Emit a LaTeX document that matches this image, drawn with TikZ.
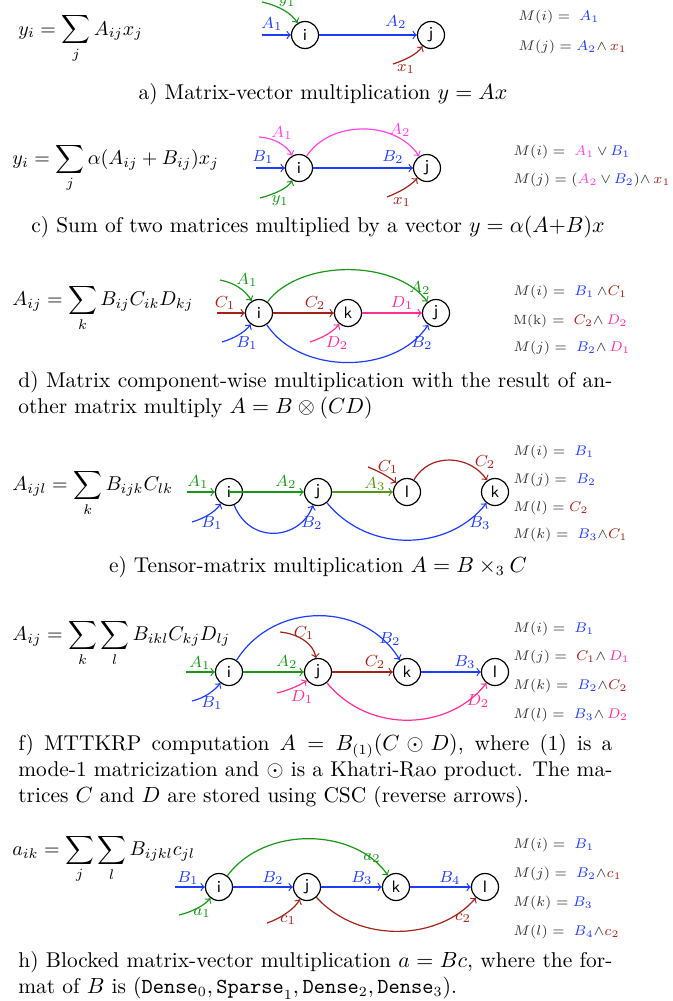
\documentclass[tikz,border=0pt]{standalone}
\usepackage{amsmath}
\definecolor{eblue}{RGB}{30,60,255}
\definecolor{egreen}{RGB}{25,150,25}
\definecolor{eolive}{RGB}{85,150,20}
\definecolor{ered}{RGB}{160,35,25}
\definecolor{emag}{RGB}{255,70,230}
\definecolor{epink}{RGB}{255,45,150}
\tikzset{
  vert/.style={circle, draw, line width=0.6pt, minimum size=13.5pt, inner sep=0pt, font=\sffamily\fontsize{8.3}{9}\selectfont},
  ed/.style={->, line width=0.6pt},
  elab/.style={font=\fontsize{8}{9}\selectfont, inner sep=0pt},
  eqtxt/.style={font=\fontsize{9.6}{12}\selectfont, anchor=base west, inner sep=0pt},
  captxt/.style={font=\fontsize{10.7}{13}\selectfont, inner sep=0pt},
  capbox/.style={captxt, anchor=north west, text width=297pt, align=justify},
  mlab/.style={font=\fontsize{6.7}{8}\selectfont, anchor=west, text=black!80, inner sep=0pt},
}
\begin{document}
\begin{tikzpicture}[x=0.5pt,y=-0.5pt]
\useasboundingbox (0,0) rectangle (673,1001);

% ---------------- panel a ----------------
\node[eqtxt] (eqa) at (18,35) {$\displaystyle y_i=\sum_j A_{ij}x_j$};
\node[vert] (ai) at (305,35) {i};
\node[vert] (aj) at (431,35) {j};
\coordinate (aA1) at (262,35);
\coordinate (ay1) at (262,2);
\coordinate (ax1) at (393,64);
\draw[ed,eblue] (aA1) -- (ai);
\draw[ed,egreen] (ay1) .. controls (280,6) and (292,14) .. (ai);
\draw[ed,eblue] (ai) -- (aj);
\draw[ed,ered] (ax1) .. controls (405,60) and (416,55) .. (aj);
\node[elab,text=eblue] (laA1) at (272,24) {$A_1$};
\node[elab,text=egreen] (lay1) at (287,2) {$y_1$};
\node[elab,text=eblue] (laA2) at (396,22) {$A_2$};
\node[elab,text=ered] (lax1) at (406,69) {$x_1$};
\node[mlab] (ma1) at (518,17) {$M(i) =\;\textcolor{eblue}{A_1}$};
\node[mlab] (ma2) at (518,47) {$M(j) =\textcolor{eblue}{A_2}{\wedge}\,\textcolor{ered}{x_1}$};
\node[captxt,anchor=base] (capa) at (323,99) {a) Matrix-vector multiplication $y=Ax$};

% ---------------- panel c ----------------
\node[eqtxt] (eqc) at (12,164) {$\displaystyle y_i=\sum_j \alpha(A_{ij}+B_{ij})x_j$};
\node[vert] (ci) at (299,168) {i};
\node[vert] (cj) at (427,168) {j};
\coordinate (cA1) at (259,137);
\coordinate (cB1) at (256,168);
\coordinate (cy1) at (260,198);
\coordinate (cx1) at (387,197);
\draw[ed,emag] (cA1) .. controls (275,138) and (287,146) .. (ci);
\draw[ed,eblue] (cB1) -- (ci);
\draw[ed,egreen] (cy1) .. controls (275,194) and (288,188) .. (ci);
\draw[ed,emag] (ci) .. controls (330,120) and (395,120) .. (cj);
\draw[ed,eblue] (ci) -- (cj);
\draw[ed,ered] (cx1) .. controls (400,192) and (410,186) .. (cj);
\node[elab,text=emag] (lcA1) at (282,133) {$A_1$};
\node[elab,text=eblue] (lcB1) at (263,157) {$B_1$};
\node[elab,text=egreen] (lcy1) at (280,201) {$y_1$};
\node[elab,text=emag] (lcA2) at (400,130) {$A_2$};
\node[elab,text=eblue] (lcB2) at (393,157) {$B_2$};
\node[elab,text=ered] (lcx1) at (402,202) {$x_1$};
\node[mlab] (mc1) at (513,152) {$M(i) =\;\textcolor{emag}{A_1}\,{\vee}\,\textcolor{eblue}{B_1}$};
\node[mlab] (mc2) at (513,180) {$M(j) ={(}\textcolor{emag}{A_2}\,{\vee}\,\textcolor{eblue}{B_2}{)}{\wedge}\,\textcolor{ered}{x_1}$};
\node[captxt,anchor=base] (capc) at (318,232) {c) Sum of two matrices multiplied by a vector $y=\alpha(A{+}B)x$};

% ---------------- panel d ----------------
\node[eqtxt] (eqd) at (12,305) {$\displaystyle A_{ij}=\sum_k B_{ij}C_{ik}D_{kj}$};
\node[vert] (di) at (259,313) {i};
\node[vert] (dk) at (348,313) {k};
\node[vert] (dj) at (436,313) {j};
\coordinate (dA1) at (220,280);
\coordinate (dC1) at (217,313);
\coordinate (dB1) at (222,342);
\coordinate (dD2) at (310,342);
\draw[ed,egreen] (dA1) .. controls (235,283) and (245,290) .. (di);
\draw[ed,ered] (dC1) -- (di);
\draw[ed,eblue] (dB1) .. controls (235,338) and (245,332) .. (di);
\draw[ed,egreen] (di) .. controls (300,259) and (395,259) .. (dj);
\draw[ed,ered] (di) -- (dk);
\draw[ed,epink] (dk) -- (dj);
\draw[ed,epink] (dD2) .. controls (322,338) and (333,332) .. (dk);
\draw[ed,eblue] (di) .. controls (300,375) and (395,375) .. (dj);
\node[elab,text=egreen] (ldA1) at (247,280) {$A_1$};
\node[elab,text=ered] (ldC1) at (225,303) {$C_1$};
\node[elab,text=eblue] (ldB1) at (247,343) {$B_1$};
\node[elab,text=egreen] (ldA2) at (420,288) {$A_2$};
\node[elab,text=ered] (ldC2) at (315,303) {$C_2$};
\node[elab,text=epink] (ldD1) at (402,303) {$D_1$};
\node[elab,text=epink] (ldD2) at (337,343) {$D_2$};
\node[elab,text=eblue] (ldB2) at (422,343) {$B_2$};
\node[mlab] (md1) at (513,292) {$M(i) =\;\textcolor{eblue}{B_1}\,{\wedge}\textcolor{ered}{C_1}$};
\node[mlab] (md2) at (513,321) {M(k) $=\;\textcolor{ered}{C_2}{\wedge}\,\textcolor{epink}{D_2}$};
\node[mlab] (md3) at (513,348) {$M(j) =\;\textcolor{eblue}{B_2}{\wedge}\,\textcolor{epink}{D_1}$};
\node[capbox] (capd) at (18,371) {d) Matrix component-wise multiplication with the result of an-\linebreak other matrix multiply $A=B\otimes(CD)$};

% ---------------- panel e ----------------
\node[eqtxt] (eqe) at (12,490) {$\displaystyle A_{ijl}=\sum_k B_{ijk}C_{lk}$};
\node[vert] (ei) at (229,492) {i};
\node[vert] (ej) at (318,492) {j};
\node[vert] (enl) at (407,492) {l};
\node[vert] (ek) at (495,492) {k};
\coordinate (eA1) at (187,492);
\coordinate (eB1) at (192,522);
\coordinate (eC1) at (368,467);
\draw[ed,egreen] (eA1) -- (ei);
\draw[ed,eblue] (eB1) .. controls (205,518) and (215,512) .. (ei);
\draw[ed,egreen] (ei.center) -- (ej);
\draw[ed,eblue] (ei) .. controls (250,545) and (300,540) .. (ej);
\draw[ed,eolive] (ej) -- (enl);
\draw[ed,ered] (eC1) .. controls (378,471) and (388,476) .. (enl);
\draw[ed,ered] (enl) .. controls (430,452) and (470,455) .. (ek);
\draw[ed,eblue] (ej) .. controls (370,555) and (450,550) .. (ek);
\node[elab,text=egreen] (leA1) at (198,482) {$A_1$};
\node[elab,text=eblue] (leB1) at (212,523) {$B_1$};
\node[elab,text=egreen] (leA2) at (286,482) {$A_2$};
\node[elab,text=eblue] (leB2) at (312,523) {$B_2$};
\node[elab,text=eolive] (leA3) at (375,484) {$A_3$};
\node[elab,text=ered] (leC1) at (388,467) {$C_1$};
\node[elab,text=ered] (leC2) at (485,462) {$C_2$};
\node[elab,text=eblue] (leB3) at (480,523) {$B_3$};
\node[mlab] (me1) at (513,452) {$M(i) =\;\textcolor{eblue}{B_1}$};
\node[mlab] (me2) at (513,480) {$M(j) =\;\textcolor{eblue}{B_2}$};
\node[mlab] (me3) at (513,508) {$M(l) =\textcolor{ered}{C_2}$};
\node[mlab] (me4) at (513,535) {$M(k) =\;\textcolor{eblue}{B_3}{\wedge}\textcolor{ered}{C_1}$};
\node[captxt,anchor=base] (cape) at (318,572) {e) Tensor-matrix multiplication $A=B\times_3 C$};

% ---------------- panel f ----------------
\node[eqtxt] (eqf) at (12,640) {$\displaystyle A_{ij}=\sum_k\sum_l B_{ikl}C_{kj}D_{lj}$};
\node[vert] (fi) at (229,672) {i};
\node[vert] (fj) at (318,672) {j};
\node[vert] (fk) at (407,672) {k};
\node[vert] (fl) at (495,672) {l};
\coordinate (fA1) at (186,672);
\coordinate (fB1) at (192,701);
\coordinate (fC1) at (280,632);
\coordinate (fD1) at (277,693);
\draw[ed,egreen] (fA1) -- (fi);
\draw[ed,eblue] (fB1) .. controls (205,698) and (215,690) .. (fi);
\draw[ed,eblue] (fi) .. controls (275,600) and (365,602) .. (fk);
\draw[ed,ered] (fC1) .. controls (300,634) and (314,645) .. (fj);
\draw[ed,egreen] (fi) -- (fj);
\draw[ed,epink] (fD1) .. controls (290,690) and (302,684) .. (fj);
\draw[ed,ered] (fj) -- (fk);
\draw[ed,eblue] (fk) -- (fl);
\draw[ed,epink] (fj) .. controls (370,735) and (450,730) .. (fl);
\node[elab,text=egreen] (lfA1) at (200,663) {$A_1$};
\node[elab,text=eblue] (lfB1) at (212,703) {$B_1$};
\node[elab,text=eblue] (lfB2) at (390,639) {$B_2$};
\node[elab,text=ered] (lfC1) at (304,633) {$C_1$};
\node[elab,text=egreen] (lfA2) at (287,662) {$A_2$};
\node[elab,text=epink] (lfD1) at (302,697) {$D_1$};
\node[elab,text=ered] (lfC2) at (375,662) {$C_2$};
\node[elab,text=eblue] (lfB3) at (465,662) {$B_3$};
\node[elab,text=epink] (lfD2) at (478,701) {$D_2$};
\node[mlab] (mf1) at (513,629) {$M(i) =\;\textcolor{eblue}{B_1}$};
\node[mlab] (mf2) at (513,657) {$M(j) =\;\textcolor{ered}{C_1}{\wedge}\,\textcolor{epink}{D_1}$};
\node[mlab] (mf3) at (513,686) {$M(k) =\;\textcolor{eblue}{B_2}{\wedge}\textcolor{ered}{C_2}$};
\node[mlab] (mf4) at (513,715) {$M(l) =\;\textcolor{eblue}{B_3}{\wedge}\,\textcolor{epink}{D_2}$};
\node[capbox] (capf) at (18,734) {f) MTTKRP computation $A=B_{(1)}(C\odot D)$, where (1) is a\linebreak mode-1 matricization and $\odot$ is a Khatri-Rao product. The ma-\linebreak trices $C$ and $D$ are stored using CSC (reverse arrows).};

% ---------------- panel h ----------------
\node[eqtxt] (eqh) at (12,855) {$\displaystyle a_{ik}=\sum_j\sum_l B_{ijkl}c_{jl}$};
\node[vert] (hi) at (219,887) {i};
\node[vert] (hj) at (307,887) {j};
\node[vert] (hk) at (396,887) {k};
\node[vert] (hl) at (485,887) {l};
\coordinate (hB1) at (175,887);
\coordinate (ha1) at (179,915);
\coordinate (hc1) at (267,923);
\draw[ed,eblue] (hB1) -- (hi);
\draw[ed,egreen] (ha1) .. controls (192,912) and (205,905) .. (hi);
\draw[ed,egreen] (hi) .. controls (265,825) and (355,828) .. (hk);
\draw[ed,eblue] (hi) -- (hj);
\draw[ed,eblue] (hj) -- (hk);
\draw[ed,eblue] (hk) -- (hl);
\draw[ed,ered] (hc1) .. controls (282,918) and (295,908) .. (hj);
\draw[ed,ered] (hj) .. controls (360,945) and (440,940) .. (hl);
\node[elab,text=eblue] (lhB1) at (188,878) {$B_1$};
\node[elab,text=egreen] (lha1) at (202,913) {$a_1$};
\node[elab,text=egreen] (lha2) at (372,858) {$a_2$};
\node[elab,text=eblue] (lhB2) at (273,878) {$B_2$};
\node[elab,text=eblue] (lhB3) at (362,878) {$B_3$};
\node[elab,text=eblue] (lhB4) at (450,878) {$B_4$};
\node[elab,text=ered] (lhc1) at (288,920) {$c_1$};
\node[elab,text=ered] (lhc2) at (463,918) {$c_2$};
\node[mlab] (mh1) at (513,845) {$M(i) =\;\textcolor{eblue}{B_1}$};
\node[mlab] (mh2) at (513,874) {$M(j) =\;\textcolor{eblue}{B_2}{\wedge}\textcolor{ered}{c_1}$};
\node[mlab] (mh3) at (513,903) {$M(k) =\textcolor{eblue}{B_3}$};
\node[mlab] (mh4) at (513,932) {$M(l) =\;\textcolor{eblue}{B_4}{\wedge}\textcolor{ered}{c_2}$};
\node[capbox] (caph) at (18,951) {h) Blocked matrix-vector multiplication $a=Bc$, where the for-\linebreak mat of $B$ is $(\texttt{Dense}_0,\texttt{Sparse}_1,\texttt{Dense}_2,\texttt{Dense}_3)$.};
\end{tikzpicture}
\end{document}
